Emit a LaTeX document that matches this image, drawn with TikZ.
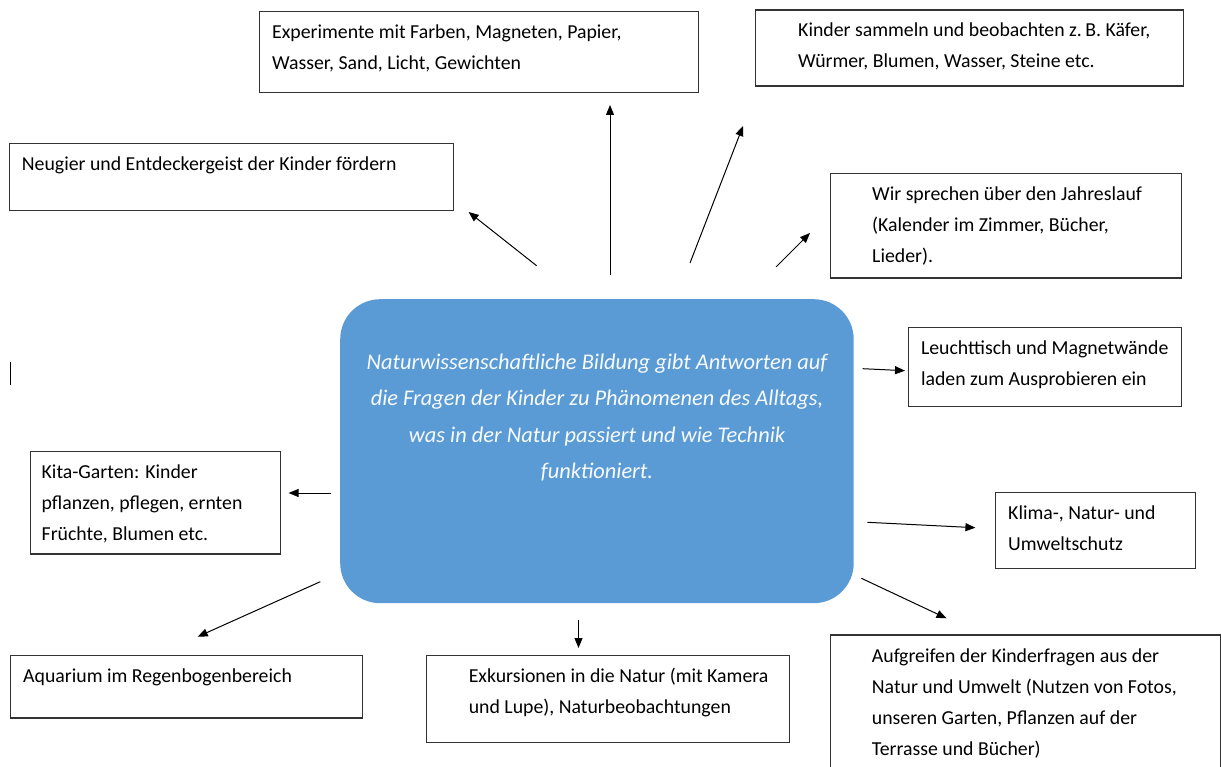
\documentclass[tikz,border=0pt]{standalone}
\usepackage{fontspec}
\setmainfont{Carlito}
\usetikzlibrary{arrows.meta}
\definecolor{hub}{HTML}{5B9BD5}
\definecolor{edge}{HTML}{333333}
\tikzset{
  box/.style={draw=edge, line width=1.3pt, rectangle, inner sep=0pt, anchor=north west},
  txt/.style={anchor=north west, inner sep=0pt, align=left, font=\fontsize{19.8}{31}\selectfont},
  hubtxt/.style={anchor=north, inner sep=0pt, align=center, text=white!96!hub, font=\fontsize{22.4}{36.5}\selectfont\itshape},
  arr/.style={line width=1pt, -{Triangle[length=10pt,width=8pt]}},
}
\begin{document}
\begin{tikzpicture}[x=1pt,y=-1pt]
\useasboundingbox (0,0) rectangle (1221,767);
\clip (0,0) rectangle (1221,767);
% hub
\node[fill=hub, rounded corners=40pt, minimum width=513.5pt, minimum height=304pt, inner sep=0pt, anchor=north west] (hub) at (340,299) {};
\node[hubtxt] (hubt) at (597,343.6) {\strut Naturwissenschaftliche Bildung gibt Antworten auf\\die Fragen der Kinder zu Phänomenen des Alltags,\\was in der Natur passiert und wie Technik\\funktioniert.};
% boxes
\node[box, minimum width=439pt, minimum height=81pt] (bExp) at (259,10.7) {};
\node[txt] (tExp) at (272,16.5) {\strut Experimente mit Farben, Magneten, Papier,\\Wasser, Sand, Licht, Gewichten};
\node[box, minimum width=428pt, minimum height=76pt] (bKin) at (755,9.3) {};
\node[txt] (tKin) at (798,15.1) {\strut Kinder sammeln und beobachten z.\,B. Käfer,\\Würmer, Blumen, Wasser, Steine etc.};
\node[box, minimum width=444pt, minimum height=67pt] (bNeu) at (8.7,143) {};
\node[txt] (tNeu) at (21.7,148.8) {\strut Neugier und Entdeckergeist der Kinder fördern};
\node[box, minimum width=351pt, minimum height=104.6pt] (bWir) at (829.7,172.7) {};
\node[txt] (tWir) at (872,178.5) {\strut Wir sprechen über den Jahreslauf\\(Kalender im Zimmer, Bücher,\\Lieder).};
\node[box, minimum width=273pt, minimum height=79pt] (bLeu) at (908,326.7) {};
\node[txt] (tLeu) at (920.8,332.5) {\strut Leuchttisch und Magnetwände\\laden zum Ausprobieren ein};
\node[box, minimum width=200pt, minimum height=76pt] (bKli) at (995,491.7) {};
\node[txt] (tKli) at (1008,497.5) {\strut Klima-, Natur- und\\Umweltschutz};
\node[box, minimum width=250.3pt, minimum height=102.3pt] (bKit) at (29.7,451) {};
\node[txt] (tKit) at (41.5,456.8) {\strut Kita-Garten: Kinder\\pflanzen, pflegen, ernten\\Früchte, Blumen etc.};
\node[box, minimum width=352pt, minimum height=62.3pt] (bAqu) at (9.9,655) {};
\node[txt] (tAqu) at (23,660.8) {\strut Aquarium im Regenbogenbereich};
\node[box, minimum width=363pt, minimum height=87pt] (bExk) at (426,655) {};
\node[txt] (tExk) at (468.6,660.8) {\strut Exkursionen in die Natur (mit Kamera\\und Lupe), Naturbeobachtungen};
\node[box, minimum width=390pt, minimum height=150pt] (bAuf) at (829.7,634.3) {};
\node[txt] (tAuf) at (871.7,640.1) {\strut Aufgreifen der Kinderfragen aus der\\Natur und Umwelt (Nutzen von Fotos,\\unseren Garten, Pflanzen auf der\\Terrasse und Bücher)};
% cursor mark
\coordinate (cur1) at (10,361.7);
\coordinate (cur2) at (10,385);
\draw[line width=1pt] (cur1) -- (cur2);
% arrow endpoints
\coordinate (aS) at (536.6,265.7);  \coordinate (aE) at (468.6,212);
\coordinate (bS) at (610,275);      \coordinate (bE) at (610,105);
\coordinate (cS) at (690,263);      \coordinate (cE) at (743,126);
\coordinate (dS) at (776,267);      \coordinate (dE) at (810,233);
\coordinate (eS) at (862.6,368.7);  \coordinate (eE) at (905,370.7);
\coordinate (fS) at (867.3,522.3);  \coordinate (fE) at (975.4,527.7);
\coordinate (gS) at (861.4,578.3);  \coordinate (gE) at (946.5,618.3);
\coordinate (hS) at (578.5,620);    \coordinate (hE) at (578.5,648);
\coordinate (iS) at (320.3,581.7);  \coordinate (iE) at (197.7,636.7);
\coordinate (jS) at (331,493);      \coordinate (jE) at (288.6,493);
\foreach \p in {a,b,c,d,e,f,g,h,i,j}{\draw[arr] (\p S) -- (\p E);}
\end{tikzpicture}
\end{document}
